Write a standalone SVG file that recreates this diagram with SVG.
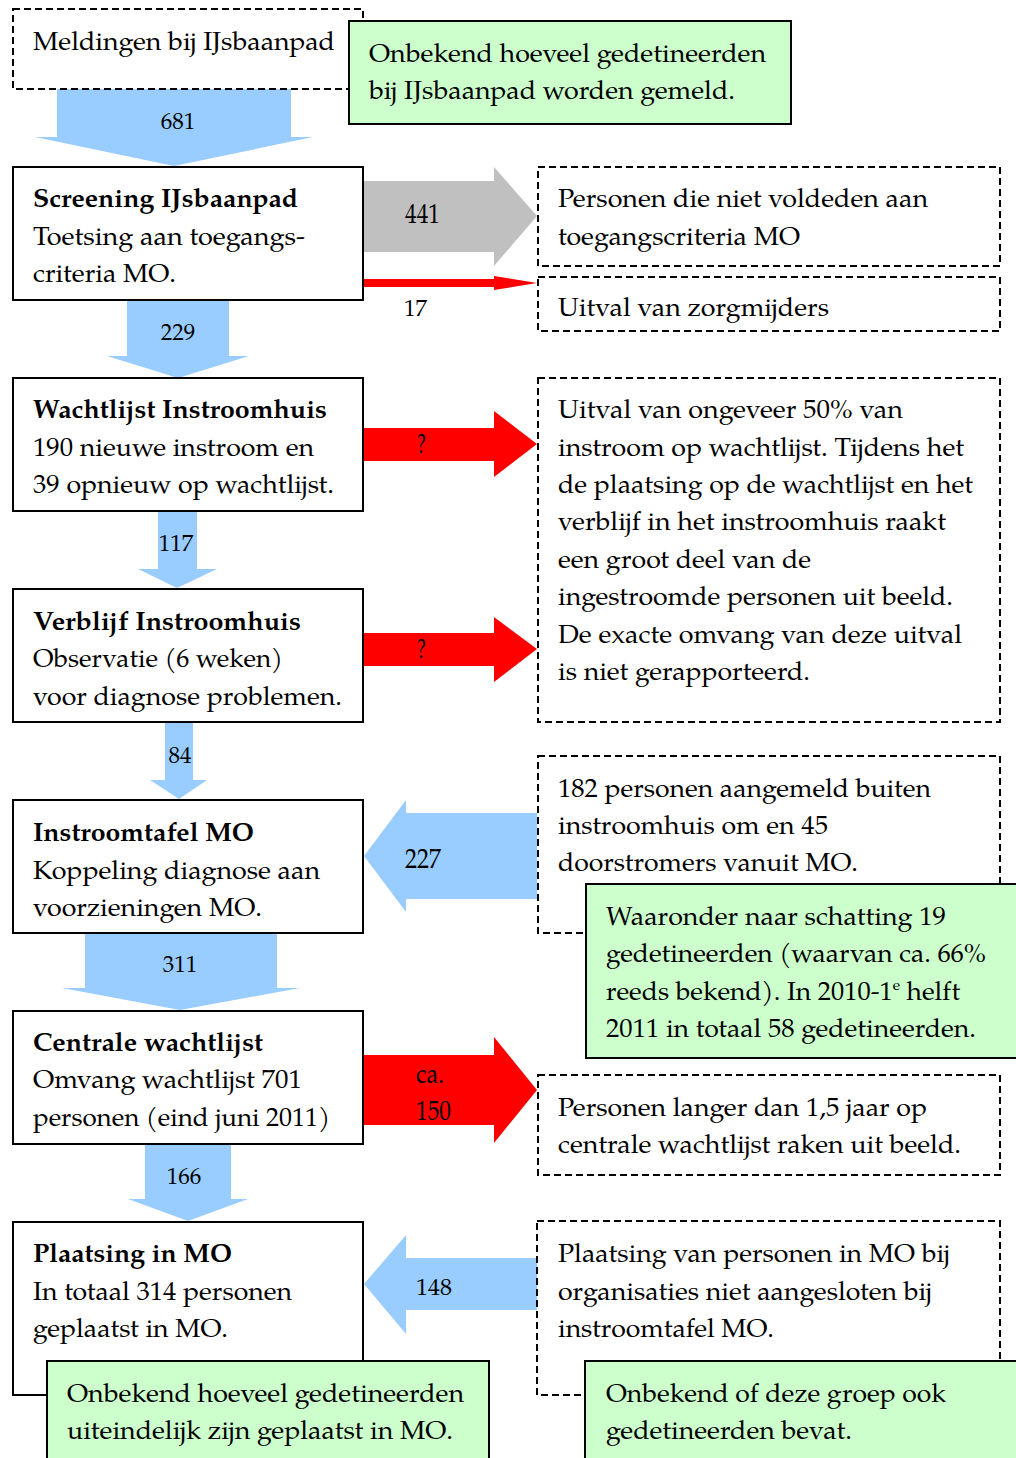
<svg xmlns="http://www.w3.org/2000/svg" width="1016" height="1458" viewBox="0 0 1016 1458">
<style>
.t{font-family:"TeX Gyre Pagella","Palatino Linotype",Palatino,"URW Palladio L","P052","Liberation Serif",serif;font-size:26px;fill:#000}
.b{font-weight:bold}
.n{font-family:"TeX Gyre Pagella","Palatino Linotype",Palatino,"URW Palladio L","P052","Liberation Serif",serif;font-size:23px;fill:#000}
.c{font-family:"TeX Gyre Pagella","Palatino Linotype",Palatino,"URW Palladio L","P052","Liberation Serif",serif;font-size:27px;fill:#000}
.box{fill:#fff;stroke:#000;stroke-width:2}
.dash{fill:#fff;stroke:#000;stroke-width:2;stroke-dasharray:7 4}
.note{fill:#CCFFCC;stroke:#000;stroke-width:2}
.blue{fill:#99CCFF}
.red{fill:#FF0000}
.gray{fill:#C0C0C0}
</style>
<rect width="1016" height="1458" fill="#fff"/>
<g id="connectors">
<polygon class="blue" points="57,89 291,89 291,137 313,137 174,166 35,137 57,137"/>
<text class="n" x="178" y="129" text-anchor="middle">681</text>
<polygon class="gray" points="363,181 494,181 494,167 537,216 494,266 494,252 363,252"/>
<text class="c" x="405" y="223" textLength="35" lengthAdjust="spacingAndGlyphs">441</text>
<polygon class="red" points="363,279 494,279 494,276 537,283 494,290 494,287 363,287"/>
<text class="n" x="404" y="316">17</text>
<polygon class="blue" points="127,300 229,300 229,356 249,356 178,378 107,356 127,356"/>
<text class="n" x="178" y="340" text-anchor="middle">229</text>
<polygon class="red" points="363,428 494,428 494,411 537,444 494,477 494,461 363,461"/>
<text class="c" x="417" y="453" textLength="9" lengthAdjust="spacingAndGlyphs">?</text>
<polygon class="blue" points="158,511 197,511 197,569 217,569 177,588 138,569 158,569"/>
<text class="n" x="176" y="551" text-anchor="middle">117</text>
<polygon class="red" points="363,633 494,633 494,617 537,649 494,682 494,666 363,666"/>
<text class="c" x="417" y="658" textLength="9" lengthAdjust="spacingAndGlyphs">?</text>
<polygon class="blue" points="165,722 193,722 193,780 207,780 179,799 150,780 165,780"/>
<text class="n" x="180" y="763" text-anchor="middle">84</text>
<polygon class="blue" points="537,813 406,813 406,800 364,856 406,912 406,899 537,899"/>
<text class="c" x="405" y="868" textLength="36" lengthAdjust="spacingAndGlyphs">227</text>
<polygon class="blue" points="85,933 277,933 277,988 300,988 180,1010 62,988 85,988"/>
<text class="n" x="180" y="972" text-anchor="middle">311</text>
<polygon class="red" points="363,1055 494,1055 494,1037 537,1090 494,1143 494,1125 363,1125"/>
<text class="c" x="416" y="1083" textLength="28" lengthAdjust="spacingAndGlyphs">ca.</text>
<text class="c" x="416" y="1120" textLength="35" lengthAdjust="spacingAndGlyphs">150</text>
<polygon class="blue" points="145,1144 231,1144 231,1199 248,1199 188,1221 128,1199 145,1199"/>
<text class="n" x="184" y="1184" text-anchor="middle">166</text>
<polygon class="blue" points="537,1258 406,1258 406,1235 364,1284 406,1334 406,1310 537,1310"/>
<text class="n" x="416" y="1295" textLength="36" lengthAdjust="spacingAndGlyphs">148</text>
</g>
<g id="meldingen">
<rect class="dash" x="13" y="9" width="350" height="80"/>
<text class="t" x="33" y="50" textLength="302" lengthAdjust="spacingAndGlyphs">Meldingen bij IJsbaanpad</text>
</g>
<g id="note-meldingen">
<rect class="note" x="349" y="21" width="442" height="103"/>
<text class="t" x="369" y="62" textLength="397" lengthAdjust="spacingAndGlyphs">Onbekend hoeveel gedetineerden</text>
<text class="t" x="369" y="99" textLength="366" lengthAdjust="spacingAndGlyphs">bij IJsbaanpad worden gemeld.</text>
</g>
<g id="screening">
<rect class="box" x="13" y="167" width="350" height="133"/>
<text class="t b" x="33" y="207" textLength="265" lengthAdjust="spacingAndGlyphs">Screening IJsbaanpad</text>
<text class="t" x="33" y="245" textLength="272" lengthAdjust="spacingAndGlyphs">Toetsing aan toegangs-</text>
<text class="t" x="33" y="282" textLength="143" lengthAdjust="spacingAndGlyphs">criteria MO.</text>
</g>
<g id="niet-voldeden">
<rect class="dash" x="538" y="167" width="462" height="99"/>
<text class="t" x="558" y="207" textLength="370" lengthAdjust="spacingAndGlyphs">Personen die niet voldeden aan</text>
<text class="t" x="558" y="245" textLength="242" lengthAdjust="spacingAndGlyphs">toegangscriteria MO</text>
</g>
<g id="zorgmijders">
<rect class="dash" x="538" y="277" width="462" height="54"/>
<text class="t" x="558" y="316" textLength="271" lengthAdjust="spacingAndGlyphs">Uitval van zorgmijders</text>
</g>
<g id="wachtlijst-instroomhuis">
<rect class="box" x="13" y="378" width="350" height="133"/>
<text class="t b" x="33" y="418" textLength="294" lengthAdjust="spacingAndGlyphs">Wachtlijst Instroomhuis</text>
<text class="t" x="33" y="456" textLength="281" lengthAdjust="spacingAndGlyphs">190 nieuwe instroom en</text>
<text class="t" x="33" y="493" textLength="301" lengthAdjust="spacingAndGlyphs">39 opnieuw op wachtlijst.</text>
</g>
<g id="uitval-instroom">
<rect class="dash" x="538" y="378" width="462" height="344"/>
<text class="t" x="558" y="418" textLength="345" lengthAdjust="spacingAndGlyphs">Uitval van ongeveer 50% van</text>
<text class="t" x="558" y="456" textLength="406" lengthAdjust="spacingAndGlyphs">instroom op wachtlijst. Tijdens het</text>
<text class="t" x="558" y="493" textLength="415" lengthAdjust="spacingAndGlyphs">de plaatsing op de wachtlijst en het</text>
<text class="t" x="558" y="530" textLength="388" lengthAdjust="spacingAndGlyphs">verblijf in het instroomhuis raakt</text>
<text class="t" x="558" y="568" textLength="253" lengthAdjust="spacingAndGlyphs">een groot deel van de</text>
<text class="t" x="558" y="605" textLength="395" lengthAdjust="spacingAndGlyphs">ingestroomde personen uit beeld.</text>
<text class="t" x="558" y="643" textLength="404" lengthAdjust="spacingAndGlyphs">De exacte omvang van deze uitval</text>
<text class="t" x="558" y="680" textLength="252" lengthAdjust="spacingAndGlyphs">is niet gerapporteerd.</text>
</g>
<g id="verblijf">
<rect class="box" x="13" y="589" width="350" height="133"/>
<text class="t b" x="33" y="630" textLength="268" lengthAdjust="spacingAndGlyphs">Verblijf Instroomhuis</text>
<text class="t" x="33" y="667" textLength="250" lengthAdjust="spacingAndGlyphs">Observatie (6 weken)</text>
<text class="t" x="33" y="705" textLength="309" lengthAdjust="spacingAndGlyphs">voor diagnose problemen.</text>
</g>
<g id="instroomtafel">
<rect class="box" x="13" y="800" width="350" height="133"/>
<text class="t b" x="33" y="841" textLength="221" lengthAdjust="spacingAndGlyphs">Instroomtafel MO</text>
<text class="t" x="33" y="879" textLength="287" lengthAdjust="spacingAndGlyphs">Koppeling diagnose aan</text>
<text class="t" x="33" y="916" textLength="229" lengthAdjust="spacingAndGlyphs">voorzieningen MO.</text>
</g>
<g id="buiten-instroomhuis">
<rect class="dash" x="538" y="756" width="462" height="177"/>
<text class="t" x="558" y="797" textLength="373" lengthAdjust="spacingAndGlyphs">182 personen aangemeld buiten</text>
<text class="t" x="558" y="834" textLength="270" lengthAdjust="spacingAndGlyphs">instroomhuis om en 45</text>
<text class="t" x="558" y="871" textLength="300" lengthAdjust="spacingAndGlyphs">doorstromers vanuit MO.</text>
</g>
<g id="note-waaronder">
<rect class="note" x="586" y="884" width="440" height="174"/>
<text class="t" x="606" y="925" textLength="340" lengthAdjust="spacingAndGlyphs">Waaronder naar schatting 19</text>
<text class="t" x="606" y="962" textLength="380" lengthAdjust="spacingAndGlyphs">gedetineerden (waarvan ca. 66%</text>
<text class="t" x="606" y="1000" textLength="354" lengthAdjust="spacingAndGlyphs">reeds bekend). In 2010-1<tspan font-size="15" dy="-10">e</tspan><tspan dy="10"> helft</tspan></text>
<text class="t" x="606" y="1037" textLength="370" lengthAdjust="spacingAndGlyphs">2011 in totaal 58 gedetineerden.</text>
</g>
<g id="centrale-wachtlijst">
<rect class="box" x="13" y="1011" width="350" height="133"/>
<text class="t b" x="33" y="1051" textLength="230" lengthAdjust="spacingAndGlyphs">Centrale wachtlijst</text>
<text class="t" x="33" y="1088" textLength="269" lengthAdjust="spacingAndGlyphs">Omvang wachtlijst 701</text>
<text class="t" x="33" y="1126" textLength="297" lengthAdjust="spacingAndGlyphs">personen (eind juni 2011)</text>
</g>
<g id="langer-dan">
<rect class="dash" x="538" y="1075" width="462" height="100"/>
<text class="t" x="558" y="1116" textLength="369" lengthAdjust="spacingAndGlyphs">Personen langer dan 1,5 jaar op</text>
<text class="t" x="558" y="1153" textLength="403" lengthAdjust="spacingAndGlyphs">centrale wachtlijst raken uit beeld.</text>
</g>
<g id="plaatsing">
<rect class="box" x="13" y="1222" width="350" height="173"/>
<text class="t b" x="33" y="1262" textLength="199" lengthAdjust="spacingAndGlyphs">Plaatsing in MO</text>
<text class="t" x="33" y="1300" textLength="259" lengthAdjust="spacingAndGlyphs">In totaal 314 personen</text>
<text class="t" x="33" y="1337" textLength="195" lengthAdjust="spacingAndGlyphs">geplaatst in MO.</text>
</g>
<g id="niet-aangesloten">
<rect class="dash" x="537" y="1221" width="463" height="174"/>
<text class="t" x="558" y="1262" textLength="392" lengthAdjust="spacingAndGlyphs">Plaatsing van personen in MO bij</text>
<text class="t" x="558" y="1300" textLength="374" lengthAdjust="spacingAndGlyphs">organisaties niet aangesloten bij</text>
<text class="t" x="558" y="1337" textLength="216" lengthAdjust="spacingAndGlyphs">instroomtafel MO.</text>
</g>
<g id="note-plaatsing">
<rect class="note" x="47" y="1361" width="442" height="110"/>
<text class="t" x="67" y="1402" textLength="397" lengthAdjust="spacingAndGlyphs">Onbekend hoeveel gedetineerden</text>
<text class="t" x="67" y="1439" textLength="386" lengthAdjust="spacingAndGlyphs">uiteindelijk zijn geplaatst in MO.</text>
</g>
<g id="note-groep">
<rect class="note" x="585" y="1361" width="441" height="110"/>
<text class="t" x="606" y="1402" textLength="340" lengthAdjust="spacingAndGlyphs">Onbekend of deze groep ook</text>
<text class="t" x="606" y="1439" textLength="246" lengthAdjust="spacingAndGlyphs">gedetineerden bevat.</text>
</g>
</svg>
